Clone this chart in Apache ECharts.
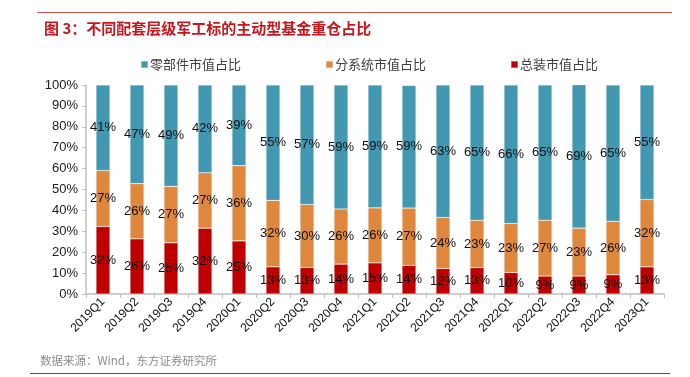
<!DOCTYPE html>
<html>
<head>
<meta charset="utf-8">
<script src="https://cdn.jsdelivr.net/npm/echarts@6/dist/echarts.min.js"></script>
<style>
  html, body { margin: 0; padding: 0; background: #fff; }
  #main { width: 690px; height: 377px; }
</style>
</head>
<body>
<div id="main"></div>
<script>
// 季度
const quarters = ['2019Q1', '2019Q2', '2019Q3', '2019Q4', '2020Q1', '2020Q2', '2020Q3', '2020Q4',
  '2021Q1', '2021Q2', '2021Q3', '2021Q4', '2022Q1', '2022Q2', '2022Q3', '2022Q4', '2023Q1']

// 總裝 / 分系統 / 零部件 市值占比（%）
const zongzhuang = [32.3, 26.4, 24.5, 31.5, 25.4, 13.0, 12.7, 14.3, 14.9, 13.7, 12.2, 12.6, 10.3, 8.6, 8.6, 9.2, 13.0]
const fenxitong = [26.8, 26.4, 27.0, 26.5, 36.0, 31.8, 30.1, 26.4, 26.3, 27.4, 24.4, 22.7, 23.4, 26.7, 22.9, 25.6, 32.2]
const lingbujian = [40.9, 47.2, 48.5, 42.0, 38.6, 55.2, 57.2, 59.3, 58.8, 58.7, 63.4, 64.7, 66.3, 64.7, 68.7, 65.2, 54.8]

const yTicks = [0, 10, 20, 30, 40, 50, 60, 70, 80, 90, 100]

const fontFamily = '"Liberation Sans", Arial, "Noto Sans CJK SC", sans-serif'

const segLabel = {
  show: true,
  position: 'inside',
  color: '#111',
  fontSize: 13,
  fontFamily: fontFamily,
  textBorderWidth: 0,
  formatter: (p) => Math.round(p.value) + '%'
}

const makeSeries = (name, data, color) => ({
  name: name,
  type: 'bar',
  stack: 'total',
  barWidth: 14,
  data: data,
  itemStyle: { color: color, borderColor: 'rgba(255,255,255,0.35)', borderWidth: 0.6 },
  label: segLabel
})

const chart = echarts.init(document.getElementById('main'))

chart.setOption({
  animation: false,
  textStyle: { fontFamily: fontFamily },
  title: {
    text: '图 3：不同配套层级军工标的主动型基金重仓占比',
    left: 39,
    top: 16,
    textStyle: { color: '#C8161D', fontSize: 15, fontWeight: 'bold', fontFamily: '"Noto Sans CJK SC", sans-serif' }
  },
  legend: {
    left: 135,
    top: 53,
    itemWidth: 7,
    itemHeight: 7,
    itemGap: 84,
    icon: 'rect',
    textStyle: { color: '#404040', fontSize: 13, padding: [0, 0, 0, -3], fontFamily: '"Noto Sans CJK SC", sans-serif' },
    data: ['零部件市值占比', '分系统市值占比', '总装市值占比']
  },
  grid: { left: 86, right: 26, top: 85, bottom: 83 },
  xAxis: {
    type: 'category',
    data: quarters,
    axisLine: { lineStyle: { color: '#BFBFBF', width: 1.5 } },
    axisTick: { show: true, length: 4, lineStyle: { color: '#BFBFBF' } },
    axisLabel: { rotate: 45, fontSize: 12, color: '#111', margin: 6, interval: 0 }
  },
  yAxis: {
    type: 'value',
    min: 0,
    max: 100,
    interval: 10,
    axisLine: { show: true, lineStyle: { color: '#BFBFBF', width: 1.5 } },
    axisTick: { show: true, length: 4, lineStyle: { color: '#BFBFBF' } },
    splitLine: { show: false },
    axisLabel: {
      fontSize: 13,
      color: '#222',
      margin: 8,
      formatter: (v) => (yTicks.indexOf(v) >= 0 ? v + '%' : '')
    }
  },
  series: [
    makeSeries('总装市值占比', zongzhuang, '#C00000'),
    makeSeries('分系统市值占比', fenxitong, '#DE873D'),
    makeSeries('零部件市值占比', lingbujian, '#4198B0')
  ],
  graphic: [
    { type: 'line', shape: { x1: 37, y1: 12.5, x2: 672, y2: 12.5 }, style: { stroke: '#D9534F', lineWidth: 1 } },
    { type: 'line', shape: { x1: 30, y1: 373.5, x2: 670, y2: 373.5 }, style: { stroke: '#D7191C', lineWidth: 1 } },
    {
      type: 'text', left: 40, top: 355,
      style: { text: '数据来源：Wind，东方证券研究所', fill: '#8C8C8C', fontSize: 11.5, fontFamily: '"Noto Sans CJK SC", sans-serif' }
    }
  ]
})
</script>
</body>
</html>
